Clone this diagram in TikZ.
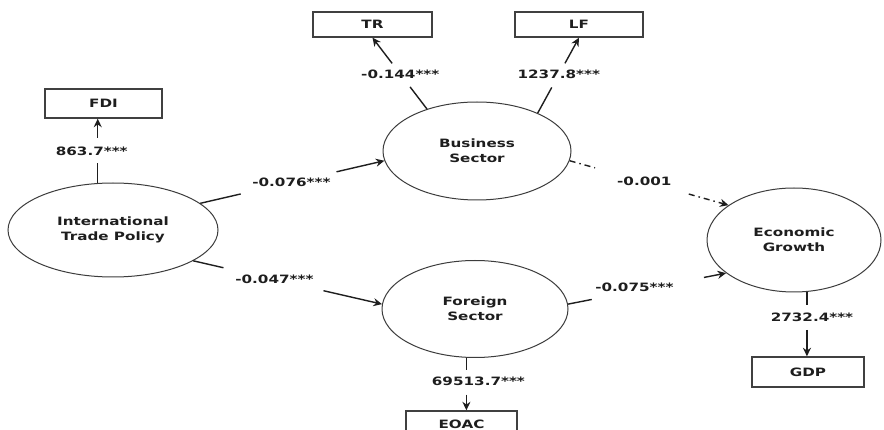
\documentclass[tikz,border=0pt]{standalone}
\usepackage{fontspec}
\setmainfont{DejaVu Sans}[FakeStretch=1.32]
\usetikzlibrary{shapes.geometric,arrows.meta}
\definecolor{ink}{HTML}{1E1E1E}
\definecolor{rim}{HTML}{3C3C3C}
\begin{document}
\begin{tikzpicture}[x=1pt,y=-1pt,
  every node/.style={font=\fontsize{11.5}{15}\selectfont\bfseries, text=ink},
  latent/.style={ellipse, draw=rim, line width=1pt, inner sep=0pt, align=center},
  indicator/.style={rectangle, draw=ink!85, line width=1.4pt, inner sep=0pt},
  coef/.style={inner sep=0pt},
  link/.style={draw=ink, line width=1.4pt},
  tip/.style={link, -{Stealth[length=8.5pt,width=8pt]}},
  weak/.style={dash pattern=on 6pt off 4pt on 1.5pt off 4pt}
]
\clip (0,0) rectangle (884,430);
\fill[white] (0,0) rectangle (884,430);

% latent constructs
\node[latent, minimum width=210pt, minimum height=94pt] (itp) at (113,230) {International\\Trade Policy};
\node[latent, minimum width=188pt, minimum height=98pt] (bs) at (477,151) {Business\\Sector};
\node[latent, minimum width=186pt, minimum height=97pt] (fs) at (475,309) {Foreign\\Sector};
\node[latent, minimum width=174pt, minimum height=104pt] (eg) at (794,240) {Economic\\Growth};

% indicators
\node[indicator, minimum width=117pt, minimum height=29pt] (fdi) at (103.5,103.5) {FDI};
\node[indicator, minimum width=119pt, minimum height=25pt] (tr) at (372.5,24.5) {TR};
\node[indicator, minimum width=128pt, minimum height=25pt] (lf) at (579,24.5) {LF};
\node[indicator, minimum width=112pt, minimum height=30pt] (gdp) at (808,372) {GDP};
\node[indicator, minimum width=111pt, minimum height=26pt] (eoac) at (461.5,424) {EOAC};

% International Trade Policy -> FDI
\path (itp.108) -- (itp.108 |- fdi.south)
  coordinate[pos=0.31] (a1) coordinate[pos=0.70] (a2)
  node[coef, pos=0.5, xshift=-6pt] {863.7***};
\draw[link] (itp.108) -- (a1);
\draw[tip] (a2) -- (itp.108 |- fdi.south);

% Business Sector -> TR
\path (bs.140) -- (tr.south)
  coordinate[pos=0.31] (b1) coordinate[pos=0.64] (b2)
  node[coef, pos=0.49] {-0.144***};
\draw[link] (bs.140) -- (b1);
\draw[tip] (b2) -- (tr.south);

% Business Sector -> LF
\path (bs.32) -- (lf.south)
  coordinate[pos=0.34] (c1) coordinate[pos=0.66] (c2)
  node[coef, pos=0.51] {1237.8***};
\draw[link] (bs.32) -- (c1);
\draw[tip] (c2) -- (lf.south);

% International Trade Policy -> Business Sector
\path (itp.17) -- (bs.186)
  coordinate[pos=0.22] (d1) coordinate[pos=0.74] (d2)
  node[coef, pos=0.495] {-0.076***};
\draw[link] (itp.17) -- (d1);
\draw[tip] (d2) -- (bs.186);

% International Trade Policy -> Foreign Sector
\path (itp.-21) -- (fs.177)
  coordinate[pos=0.16] (e1) coordinate[pos=0.69] (e2)
  node[coef, pos=0.43] {-0.047***};
\draw[link] (itp.-21) -- (e1);
\draw[tip] (e2) -- (fs.177);

% Foreign Sector -> Economic Growth
\path (fs.3) -- (eg.206)
  coordinate[pos=0.15] (f1) coordinate[pos=0.86] (f2)
  node[coef, pos=0.42, yshift=4pt] {-0.075***};
\draw[link] (fs.3) -- (f1);
\draw[tip] (f2) -- (eg.206);

% Business Sector -> Economic Growth (not significant)
\path (bs.-6) -- (eg.152)
  coordinate[pos=0.16] (g1) coordinate[pos=0.75] (g2)
  node[coef, pos=0.47] {-0.001};
\draw[link, weak] (bs.-6) -- (g1);
\draw[tip, weak] (g2) -- (eg.152);

% Economic Growth -> GDP
\path (eg.-76) -- (eg.-76 |- gdp.north)
  coordinate[pos=0.21] (h1) coordinate[pos=0.59] (h2)
  node[coef, pos=0.39, xshift=5pt] {2732.4***};
\draw[link] (eg.-76) -- (h1);
\draw[tip] (h2) -- (eg.-76 |- gdp.north);

% Foreign Sector -> EOAC
\path (fs.-100) -- (fs.-100 |- eoac.north)
  coordinate[pos=0.23] (k1) coordinate[pos=0.70] (k2)
  node[coef, pos=0.45, xshift=12pt] {69513.7***};
\draw[link] (fs.-100) -- (k1);
\draw[tip] (k2) -- (fs.-100 |- eoac.north);
\end{tikzpicture}
\end{document}
